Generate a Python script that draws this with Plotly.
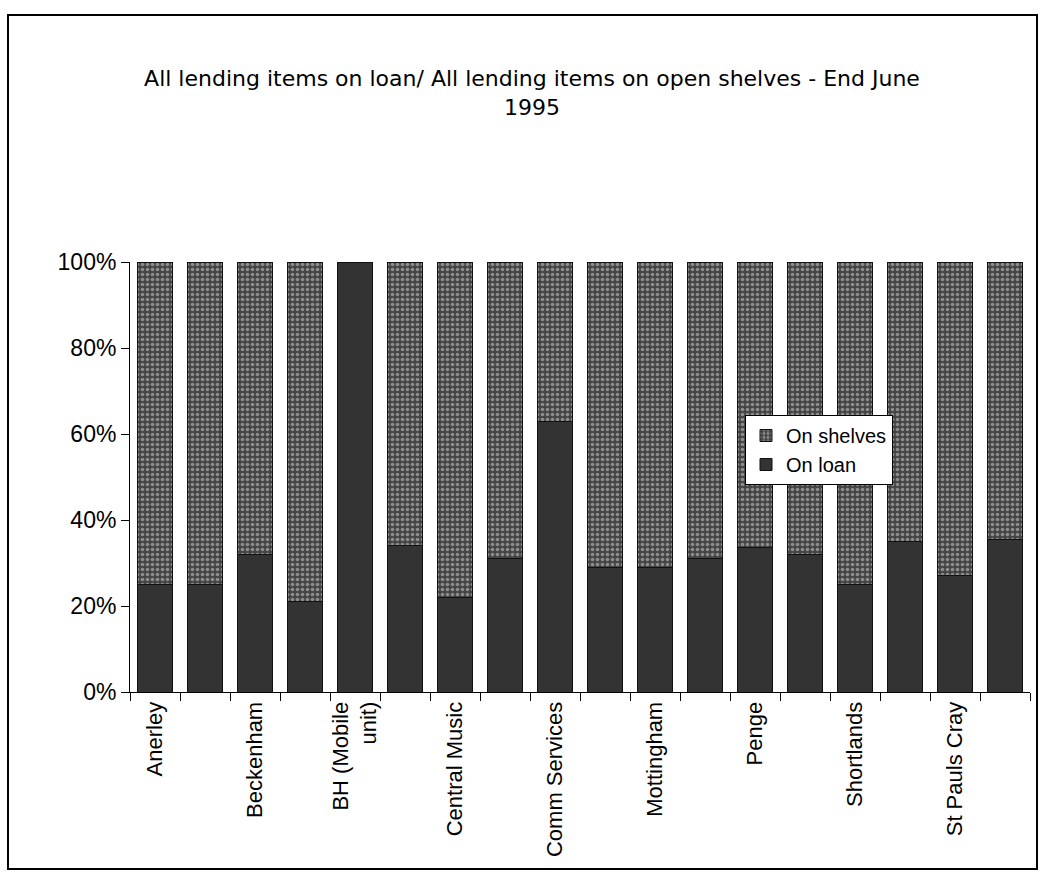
import plotly.graph_objects as go

# Data (percent of all lending items)
libraries = [
    "Anerley", "Bromley Central", "Beckenham", "Biggin Hill", "BH (Mobile unit)",
    "Burnt Ash", "Central Music", "Chislehurst", "Comm Services", "Hayes",
    "Mottingham", "Orpington", "Penge", "Petts Wood", "Shortlands",
    "Southborough", "St Pauls Cray", "West Wickham",
]
on_loan = [25, 25, 32, 21, 100, 34, 22, 31, 63, 29, 29, 31, 33.5, 32, 25, 35, 27, 35.5]
on_shelves = [100 - v for v in on_loan]
shown_labels = ["Anerley", "Beckenham", "BH (Mobile<br>unit)", "Central Music",
                "Comm Services", "Mottingham", "Penge", "Shortlands", "St Pauls Cray"]
y_ticks = [0, 20, 40, 60, 80, 100]
y_tick_text = ["0%", "20%", "40%", "60%", "80%", "100%"]

idx = list(range(len(libraries)))

FONT = "Liberation Sans, Arial, sans-serif"
TITLE_FONT = "DejaVu Sans, Liberation Sans, sans-serif"

fig = go.Figure()
fig.add_trace(go.Bar(
    x=idx, y=on_loan, name="On loan", width=0.7,
    marker=dict(color="#333333", line=dict(color="#111111", width=1)),
    hovertext=libraries,
))
fig.add_trace(go.Bar(
    x=idx, y=on_shelves, name="On shelves", width=0.7,
    marker=dict(color="#444444", line=dict(color="#111111", width=1),
                pattern=dict(shape=".", bgcolor="#444444", fgcolor="#d8d8d8",
                             size=5, solidity=0.4)),
    hovertext=libraries,
))

L, R, T, B = 130, 12, 262, 190
W, H = 1042, 882
pw, ph = W - L - R, H - T - B

def px_x(x):
    return (x - L) / pw

def px_y(y):
    return (H - B - y) / ph

fig.update_layout(
    width=W, height=H,
    barmode="stack",
    paper_bgcolor="white", plot_bgcolor="white",
    margin=dict(l=L, r=R, t=T, b=B),
    font=dict(family=FONT, color="black", size=22),
    title=dict(
        text="All lending items on loan/ All lending items on open shelves - End June<br>1995",
        x=532 / W, xanchor="center", y=1 - 86 / H, yanchor="top",
        font=dict(family=TITLE_FONT, size=22, color="black"),
    ),
    legend=dict(
        x=px_x(745), y=px_y(415), xanchor="left", yanchor="top",
        bgcolor="white", bordercolor="black", borderwidth=1,
        traceorder="reversed", font=dict(size=20, family=FONT),
        itemwidth=30, tracegroupgap=0,
    ),
    xaxis=dict(
        range=[-0.5, len(libraries) - 0.5],
        tickvals=idx[::2], ticktext=shown_labels,
        tickangle=-90, ticks="", showgrid=False, zeroline=False,
        showline=True, linecolor="black", linewidth=1,
        tickfont=dict(size=22, family=FONT),
        minor=dict(tickvals=[i - 0.5 for i in idx] + [len(idx) - 0.5],
                   ticks="outside", ticklen=8, tickcolor="black", showgrid=False),
    ),
    yaxis=dict(
        range=[0, 100], tickvals=y_ticks, ticktext=y_tick_text,
        ticks="outside", ticklen=8, tickcolor="black",
        showgrid=False, zeroline=False,
        showline=True, linecolor="black", linewidth=1,
        tickfont=dict(size=23, family=FONT),
    ),
    shapes=[dict(
        type="rect", xref="paper", yref="paper",
        x0=px_x(8), x1=px_x(1037), y0=px_y(869), y1=px_y(15),
        line=dict(color="black", width=2), fillcolor="rgba(0,0,0,0)", layer="below",
    )],
)

fig.write_html("out.html")
